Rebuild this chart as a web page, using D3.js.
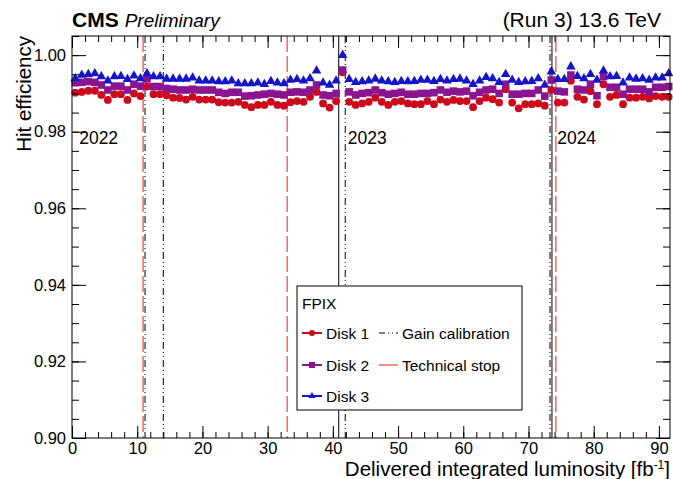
<!DOCTYPE html>
<html>
<head>
<meta charset="utf-8">
<script src="https://cdn.jsdelivr.net/npm/d3@7"></script>
<style>
  body { margin: 0; background: #fff; }
  text { font-family: "Liberation Sans", Arial, sans-serif; }
</style>
</head>
<body>
<div id="chart"></div>
<script>
// Luminosity points (fb^-1), one per fill group
var lumi1 = d3.range(0.5, 41, 1);
var lumi2 = d3.range(41.5, 92, 1);
var lumi = lumi1.concat(lumi2);

// Hit efficiency per disk
var disk1 = [0.9902, 0.9904, 0.9907, 0.9907, 0.9896, 0.9883, 0.9898, 0.9898, 0.9883, 0.9900,
  0.9893, 0.9918, 0.9898, 0.9898, 0.9895, 0.9889, 0.9888, 0.9884, 0.9891, 0.9884,
  0.9884, 0.9884, 0.9877, 0.9876, 0.9876, 0.9878, 0.9870, 0.9864, 0.9870, 0.9870,
  0.9878, 0.9870, 0.9868, 0.9877, 0.9880, 0.9878, 0.9891, 0.9904, 0.9874, 0.9863,
  0.9880,
  0.9955, 0.9878, 0.9870, 0.9874, 0.9878, 0.9889, 0.9878, 0.9870, 0.9878, 0.9880,
  0.9874, 0.9872, 0.9872, 0.9880, 0.9872, 0.9884, 0.9878, 0.9883, 0.9880, 0.9880,
  0.9864, 0.9880, 0.9889, 0.9885, 0.9876, 0.9911, 0.9876, 0.9861, 0.9872, 0.9872,
  0.9874, 0.9868, 0.9909, 0.9876, 0.9876, 0.9933, 0.9891, 0.9884, 0.9906, 0.9872,
  0.9924, 0.9891, 0.9896, 0.9872, 0.9889, 0.9889, 0.9891, 0.9887, 0.9893, 0.9891,
  0.9891];
var disk2 = [0.9928, 0.9929, 0.9931, 0.9929, 0.9922, 0.9909, 0.9919, 0.9919, 0.9909, 0.9924,
  0.9919, 0.9938, 0.9918, 0.9918, 0.9913, 0.9911, 0.9909, 0.9909, 0.9911, 0.9909,
  0.9909, 0.9909, 0.9903, 0.9900, 0.9903, 0.9903, 0.9893, 0.9894, 0.9896, 0.9898,
  0.9900, 0.9898, 0.9896, 0.9903, 0.9904, 0.9903, 0.9909, 0.9922, 0.9896, 0.9894,
  0.9900,
  0.9961, 0.9904, 0.9896, 0.9900, 0.9902, 0.9909, 0.9902, 0.9898, 0.9900, 0.9903,
  0.9898, 0.9898, 0.9900, 0.9900, 0.9902, 0.9909, 0.9903, 0.9906, 0.9904, 0.9906,
  0.9894, 0.9903, 0.9909, 0.9911, 0.9900, 0.9924, 0.9898, 0.9898, 0.9900, 0.9900,
  0.9909, 0.9893, 0.9935, 0.9906, 0.9904, 0.9948, 0.9911, 0.9909, 0.9924, 0.9894,
  0.9944, 0.9916, 0.9916, 0.9898, 0.9911, 0.9911, 0.9911, 0.9904, 0.9916, 0.9916,
  0.9918];
var disk3 = [0.9939, 0.9948, 0.9950, 0.9952, 0.9944, 0.9933, 0.9944, 0.9945, 0.9937, 0.9946,
  0.9939, 0.9952, 0.9944, 0.9944, 0.9938, 0.9938, 0.9938, 0.9938, 0.9941, 0.9933,
  0.9933, 0.9933, 0.9931, 0.9931, 0.9933, 0.9926, 0.9926, 0.9926, 0.9928, 0.9924,
  0.9932, 0.9928, 0.9926, 0.9935, 0.9937, 0.9933, 0.9939, 0.9959, 0.9928, 0.9922,
  0.9933,
  1.0000, 0.9937, 0.9929, 0.9931, 0.9933, 0.9938, 0.9933, 0.9931, 0.9929, 0.9932,
  0.9931, 0.9932, 0.9935, 0.9935, 0.9932, 0.9937, 0.9933, 0.9937, 0.9938, 0.9933,
  0.9924, 0.9933, 0.9942, 0.9939, 0.9929, 0.9950, 0.9935, 0.9929, 0.9931, 0.9932,
  0.9939, 0.9922, 0.9957, 0.9937, 0.9937, 0.9970, 0.9945, 0.9939, 0.9950, 0.9935,
  0.9959, 0.9944, 0.9945, 0.9928, 0.9941, 0.9938, 0.9939, 0.9935, 0.9941, 0.9941,
  0.9952];

// Vertical markers
var gainCalib = [11.2, 14.0, 41.9, 73.3];
var techStop = [10.9, 33.0, 74.2];
var yearEdges = [40.9, 73.6];
var yearLabels = ["2022", "2023", "2024"];
var yearPos = [1.1, 42.3, 74.4];

var xTicks = [0, 10, 20, 30, 40, 50, 60, 70, 80, 90];
var yTicks = [0.90, 0.92, 0.94, 0.96, 0.98, 1.00];

var W = 673, H = 479;
var margin = {top: 36, right: 3, bottom: 41, left: 72},
    width = W - margin.left - margin.right,
    height = H - margin.top - margin.bottom;

var svg = d3.select("#chart").append("svg")
    .attr("width", W).attr("height", H);
var g = svg.append("g")
    .attr("transform", "translate(" + margin.left + "," + margin.top + ")");

var x = d3.scaleLinear().domain([0, 91.7]).range([0, width]);
var y = d3.scaleLinear().domain([0.90, 1.005]).range([height, 0]);

// vertical lines
var red = "#f0553f";
g.selectAll(".tech").data(techStop).enter().append("line")
    .attr("x1", d => x(d)).attr("x2", d => x(d))
    .attr("y1", 0).attr("y2", height)
    .attr("stroke", red).attr("stroke-width", 1.3)
    .attr("stroke-dasharray", "16,4");
g.selectAll(".gain").data(gainCalib).enter().append("line")
    .attr("x1", d => x(d)).attr("x2", d => x(d))
    .attr("y1", 0).attr("y2", height)
    .attr("stroke", "#000").attr("stroke-width", 1)
    .attr("stroke-dasharray", "7,3,1,3,1,3");
g.selectAll(".year").data(yearEdges).enter().append("line")
    .attr("x1", d => x(d)).attr("x2", d => x(d))
    .attr("y1", 0).attr("y2", height)
    .attr("stroke", "#000").attr("stroke-width", 1);

// year labels
g.selectAll(".ylab").data(yearLabels).enter().append("text")
    .attr("x", (d, i) => x(yearPos[i])).attr("y", y(0.9768))
    .attr("font-size", "17.5px").text(d => d);

// markers
var pts = function(arr) { return arr.map(function(v, i) { return {x: lumi[i], y: v}; }); };
var cRed = "#cc0a1e", cPur = "#8b1590", cBlue = "#1414c8";

g.selectAll(".d1").data(pts(disk1)).enter().append("circle")
    .attr("cx", d => x(d.x)).attr("cy", d => y(d.y))
    .attr("r", 3.9).attr("fill", cRed);
g.selectAll(".d2").data(pts(disk2)).enter().append("rect")
    .attr("x", d => x(d.x) - 3.8).attr("y", d => y(d.y) - 3.8)
    .attr("width", 7.6).attr("height", 7.6).attr("fill", cPur);
var tri = d3.symbol().type(d3.symbolTriangle).size(40);
g.selectAll(".d3").data(pts(disk3)).enter().append("path")
    .attr("d", tri)
    .attr("transform", d => "translate(" + x(d.x) + "," + y(d.y) + ")")
    .attr("fill", cBlue);

// axes with inward ticks
function styleAxis(sel) {
  sel.select(".domain").remove();
  sel.selectAll("line").attr("stroke", "#000");
  sel.selectAll("text").attr("font-size", "16.5px").attr("fill", "#000");
}
var xMinor = d3.range(0, 92, 2);
var yMinor = d3.range(0.90, 1.0051, 0.005);

g.append("g").attr("transform", "translate(0," + height + ")")
    .call(d3.axisBottom(x).tickValues(xTicks).tickSizeInner(-12).tickSizeOuter(0).tickPadding(4).tickFormat(d3.format("d")))
    .call(styleAxis);
g.append("g").attr("transform", "translate(0," + height + ")")
    .call(d3.axisBottom(x).tickValues(xMinor).tickSize(-6).tickFormat(""))
    .call(styleAxis);
g.append("g")
    .call(d3.axisTop(x).tickValues(xTicks).tickSize(-12).tickFormat(""))
    .call(styleAxis);
g.append("g")
    .call(d3.axisTop(x).tickValues(xMinor).tickSize(-6).tickFormat(""))
    .call(styleAxis);

g.append("g")
    .call(d3.axisLeft(y).tickValues(yTicks).tickSizeInner(-14).tickSizeOuter(0).tickPadding(6).tickFormat(d3.format(".2f")))
    .call(styleAxis);
g.append("g")
    .call(d3.axisLeft(y).tickValues(yMinor).tickSize(-7).tickFormat(""))
    .call(styleAxis);
g.append("g").attr("transform", "translate(" + width + ",0)")
    .call(d3.axisRight(y).tickValues(yTicks).tickSize(-14).tickFormat(""))
    .call(styleAxis);
g.append("g").attr("transform", "translate(" + width + ",0)")
    .call(d3.axisRight(y).tickValues(yMinor).tickSize(-7).tickFormat(""))
    .call(styleAxis);

// legend
var lg = svg.append("g").attr("transform", "translate(297,286)");
lg.append("rect").attr("width", 225).attr("height", 124)
    .attr("fill", "#fff").attr("stroke", "#000").attr("stroke-width", 1);
lg.append("text").attr("x", 5).attr("y", 23).attr("font-size", "15.5px").text("FPIX");
var rowsY = [47, 79, 110];
var disks = [
  {name: "Disk 1", color: cRed, shape: "circle"},
  {name: "Disk 2", color: cPur, shape: "square"},
  {name: "Disk 3", color: cBlue, shape: "triangle"}
];
disks.forEach(function(d, i) {
  var yy = rowsY[i];
  lg.append("line").attr("x1", 5).attr("x2", 25).attr("y1", yy).attr("y2", yy)
      .attr("stroke", d.color).attr("stroke-width", 2);
  if (d.shape === "circle") {
    lg.append("circle").attr("cx", 15).attr("cy", yy).attr("r", 3).attr("fill", d.color);
  } else if (d.shape === "square") {
    lg.append("rect").attr("x", 12).attr("y", yy - 3).attr("width", 6).attr("height", 6).attr("fill", d.color);
  } else {
    lg.append("path").attr("d", d3.symbol().type(d3.symbolTriangle).size(22))
        .attr("transform", "translate(15," + yy + ")").attr("fill", d.color);
  }
  lg.append("text").attr("x", 29).attr("y", yy + 5.5).attr("font-size", "15.5px").text(d.name);
});
lg.append("line").attr("x1", 82).attr("x2", 101).attr("y1", 47).attr("y2", 47)
    .attr("stroke", "#000").attr("stroke-dasharray", "6,3,1,3,1,3");
lg.append("text").attr("x", 105).attr("y", 52.5).attr("font-size", "15.5px").text("Gain calibration");
lg.append("line").attr("x1", 82).attr("x2", 101).attr("y1", 79).attr("y2", 79)
    .attr("stroke", red).attr("stroke-width", 1.3);
lg.append("text").attr("x", 105).attr("y", 84.5).attr("font-size", "15.5px").text("Technical stop");

// frame
g.append("rect").attr("width", width).attr("height", height)
    .attr("fill", "none").attr("stroke", "#000").attr("stroke-width", 1);

// axis titles
svg.append("text")
    .attr("x", W - 3).attr("y", 476)
    .attr("text-anchor", "end").attr("font-size", "20.5px")
    .text("Delivered integrated luminosity [fb")
    .append("tspan").attr("dy", "-7").attr("font-size", "12px").text("-1")
    .select(function() { return this.parentNode; })
    .append("tspan").attr("dy", "7").attr("font-size", "20.5px").text("]");
svg.append("text")
    .attr("transform", "translate(31," + margin.top + ") rotate(-90)")
    .attr("text-anchor", "end").attr("font-size", "20.5px")
    .text("Hit efficiency");

// header
svg.append("text").attr("x", 72).attr("y", 27)
    .attr("font-size", "21px").attr("font-weight", "bold").text("CMS")
    .append("tspan").attr("dx", 6).attr("font-size", "19px")
    .attr("font-weight", "normal").attr("font-style", "italic").text("Preliminary");
svg.append("text").attr("x", 661).attr("y", 27)
    .attr("text-anchor", "end").attr("font-size", "21px")
    .text("(Run 3) 13.6 TeV");
</script>
</body>
</html>
